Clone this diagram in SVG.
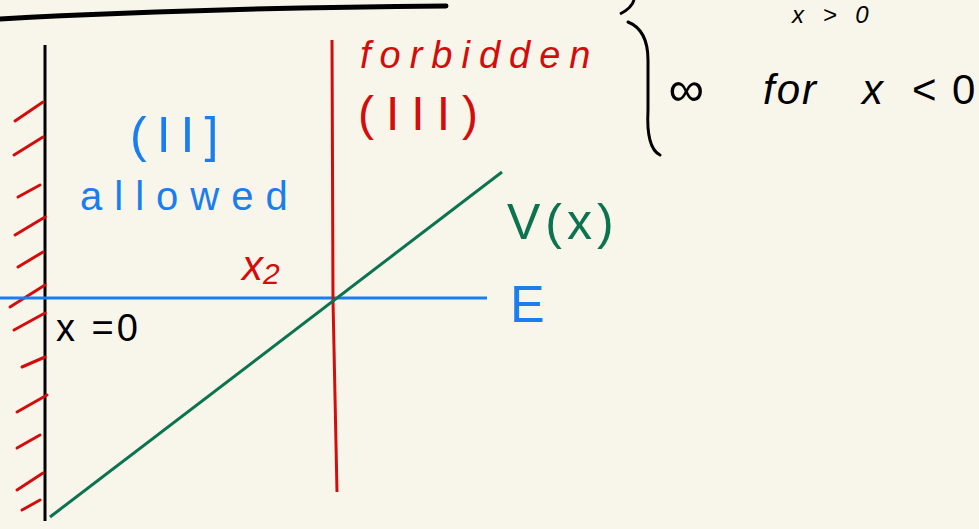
<svg xmlns="http://www.w3.org/2000/svg" width="979" height="529" viewBox="0 0 979 529">
<style>
text{font-family:"Liberation Sans","DejaVu Sans",sans-serif}
.hatch{stroke:#d40c0c;stroke-width:3;stroke-linecap:round;fill:none}
.red{fill:#d40c0c}.blue{fill:#1a7df0}.green{fill:#0b7350}.blk{fill:#000}
</style>
<rect width="979" height="529" fill="#f8f6ea"/>
<g id="top-bar"><path d="M0 19 Q200 8 446 6" stroke="#000" stroke-width="5" fill="none" stroke-linecap="round"/></g>
<g id="wall">
<line x1="45" y1="45" x2="45" y2="521" stroke="#000" stroke-width="3"/>
<g class="hatch">
<path d="M15 121 L43 102"/><path d="M14 155 L43 137"/><path d="M18 197 L40 185"/><path d="M15 235 L45 217"/><path d="M18 267 L43 252"/><path d="M10 307 L45 285"/><path d="M14 330 L45 313"/><path d="M22 367 L45 357"/><path d="M17 412 L47 395"/><path d="M17 448 L40 435"/><path d="M17 490 L43 473"/><path d="M22 510 L40 500"/>
</g>
</g>
<g id="connectors">
<line x1="0" y1="298" x2="487" y2="298" stroke="#1a7df0" stroke-width="3"/>
<path d="M332 40 L333 300 L337 492" stroke="#d40c0c" stroke-width="3" fill="none"/>
<line x1="50" y1="517" x2="502" y2="172" stroke="#0b7350" stroke-width="3"/>
</g>
<g id="brace"><path d="M628 22 Q648 30 648 60 L648 110 Q646 148 660 155" stroke="#000" stroke-width="3" fill="none" stroke-linecap="round"/>
<path d="M620 14 Q632 8 634 0" stroke="#000" stroke-width="3" fill="none"/></g>
<g id="labels">
<text x="792" y="23" class="blk" font-size="24" font-style="italic" letter-spacing="6">x &gt; 0</text>
<text x="668" y="106" class="blk" font-size="50" font-style="italic">∞</text>
<text x="763" y="104" class="blk" font-size="42" font-style="italic" letter-spacing="2">for</text>
<text x="862" y="104" class="blk" font-size="42" font-style="italic">x</text>
<text x="912" y="104" class="blk" font-size="42">&lt;</text>
<text x="952" y="104" class="blk" font-size="42">0</text>
<text x="360" y="68" class="red" font-size="38" font-style="italic" letter-spacing="9">forbidden</text>
<text x="358" y="130" class="red" font-size="48" letter-spacing="12">(III)</text>
<text x="130" y="152" class="blue" font-size="50" letter-spacing="10">(II]</text>
<text x="80" y="210" class="blue" font-size="40" letter-spacing="12">allowed</text>
<text x="242" y="280" class="red" font-size="42" font-style="italic">x<tspan font-size="30" dy="4">2</tspan></text>
<text x="56" y="341" class="blk" font-size="38" letter-spacing="3">x =0</text>
<text x="507" y="239" class="green" font-size="50" letter-spacing="5">V(x)</text>
<text x="510" y="322" class="blue" font-size="52">E</text>
</g>
</svg>
